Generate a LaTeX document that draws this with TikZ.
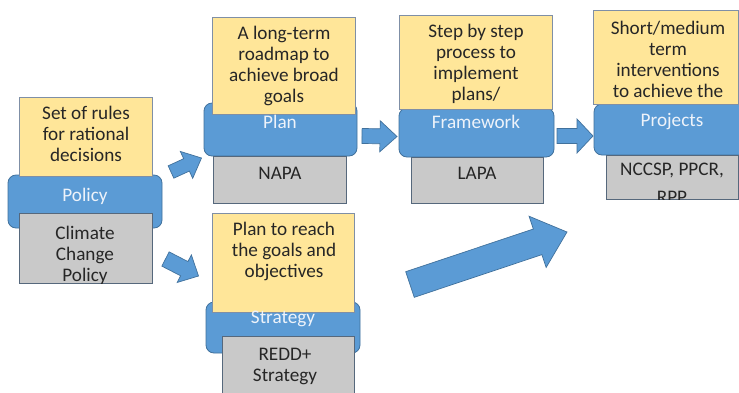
\documentclass[tikz,border=0pt]{standalone}
\usepackage{fontspec}
\setmainfont{Carlito}
\usetikzlibrary{calc}
\definecolor{yfill}{HTML}{FFE699}
\definecolor{yedge}{HTML}{7F8FA6}
\definecolor{bfill}{HTML}{5B9BD5}
\definecolor{bedge}{HTML}{41719C}
\definecolor{gfill}{HTML}{C9C9C9}
\definecolor{gedge}{HTML}{56687C}
\definecolor{txt}{HTML}{262626}
\definecolor{ltxt}{HTML}{EEF3FA}
\newcommand\mkbox[6]{\node[#1, anchor=north west, minimum width=#4pt, minimum height=#5pt] (#6) at (#2,#3) {};}
\newcommand\blockarrow[6]{%
  \coordinate (#1b) at ($(#3)!#6pt!(#2)$);
  \draw[barrow] ($(#2)!#4pt!90:(#3)$) -- ($(#1b)!#4pt!90:(#3)$) -- ($(#1b)!#5pt!90:(#3)$) -- (#3)
     -- ($(#1b)!#5pt!-90:(#3)$) -- ($(#1b)!#4pt!-90:(#3)$) -- ($(#2)!#4pt!-90:(#3)$) -- cycle;}
\begin{document}
\begin{tikzpicture}[x=1pt,y=-1pt,
  every node/.style={inner sep=0pt, outer sep=0pt},
  bluebox/.style={draw=bedge, fill=bfill, rounded corners=8pt, line width=0.8pt},
  yellowbox/.style={draw=yedge, fill=yfill, line width=0.8pt},
  graybox/.style={draw=gedge, fill=gfill, line width=0.8pt},
  ytext/.style={font=\fontsize{19.2}{21}\selectfont, text=txt, align=center},
  btext/.style={font=\fontsize{19.2}{21}\selectfont, text=ltxt, align=center},
  barrow/.style={draw=bedge, fill=bfill, line width=0.7pt, line join=miter}]
\useasboundingbox (0,0) rectangle (739,392);
\fill[white] (0,0) rectangle (739,392);
\clip (0,0) rectangle (739,392);

% Policy
\mkbox{bluebox}{8}{175}{154}{53}{polB}
\mkbox{yellowbox}{19}{97}{133}{79}{polY}
\mkbox{graybox}{19}{213}{133}{70}{polG}
\node[ytext] (polYt) at (86,134) {Set of rules\\for rational\\decisions};
\node[btext] (polBt) at (85,196) {Policy};
\begin{scope}
  \clip (polG.north west) rectangle (polG.south east);
  \node[ytext] (polGt) at (85,255.5) {Climate\\Change\\Policy};
\end{scope}

% Plan
\mkbox{bluebox}{204}{103}{153}{53}{plaB}
\mkbox{yellowbox}{212}{17}{143}{97}{plaY}
\mkbox{graybox}{213}{156}{133}{47}{plaG}
\node[ytext] (plaYt) at (284,66) {A long-term\\roadmap to\\achieve broad\\goals};
\node[btext] (plaBt) at (280,122) {Plan};
\node[ytext] (plaGt) at (280,173) {NAPA};

% Framework
\mkbox{bluebox}{399}{108}{155}{49}{fraB}
\mkbox{yellowbox}{399}{15}{153}{94}{fraY}
\mkbox{graybox}{411}{157}{132}{46}{fraG}
\node[ytext] (fraYt) at (476,64) {Step by step\\process to\\implement\\plans/};
\node[btext] (fraBt) at (476,122) {Framework};
\node[ytext] (fraGt) at (477,173) {LAPA};

% Projects
\mkbox{bluebox}{594}{104}{160}{51}{proB}
\mkbox{yellowbox}{593}{10}{145.5}{94}{proY}
\mkbox{graybox}{606}{155}{132}{44}{proG}
\node[ytext] (proYt) at (668,59) {Short/medium\\term\\interventions\\to achieve the};
\node[btext] (proBt) at (672,122) {Projects};
\begin{scope}
  \clip (proG.north west) rectangle (proG.south east);
  \node[ytext, font=\fontsize{19.2}{28}\selectfont] (proGt) at (672,183) {NCCSP, PPCR,\\RPP};
\end{scope}

% Strategy
\mkbox{bluebox}{206}{302}{154}{51}{strB}
\mkbox{yellowbox}{212}{213}{142}{99}{strY}
\mkbox{graybox}{222}{336}{132}{62}{strG}
\node[ytext] (strYt) at (284,251) {Plan to reach\\the goals and\\objectives};
\node[btext] (strBt) at (283,319) {Strategy};
\node[ytext] (strGt) at (285,366) {REDD+\\Strategy};

% Arrows
\coordinate (a1s) at (171,172);
\coordinate (a1e) at (201.5,158);
\blockarrow{a1}{a1s}{a1e}{6.8}{14.8}{16.5}
\coordinate (a2s) at (165.5,259);
\coordinate (a2e) at (198.5,276);
\blockarrow{a2}{a2s}{a2e}{8}{15.5}{16}
\coordinate (a3s) at (362,136);
\coordinate (a3e) at (397,136.5);
\blockarrow{a3}{a3s}{a3e}{7.5}{15.5}{17}
\coordinate (a4s) at (557,136);
\coordinate (a4e) at (593,136);
\blockarrow{a4}{a4s}{a4e}{7.5}{17}{16}
\coordinate (a5s) at (410,284.5);
\coordinate (a5e) at (567,232);
\blockarrow{a5}{a5s}{a5e}{13.5}{27}{31}
\end{tikzpicture}
\end{document}
